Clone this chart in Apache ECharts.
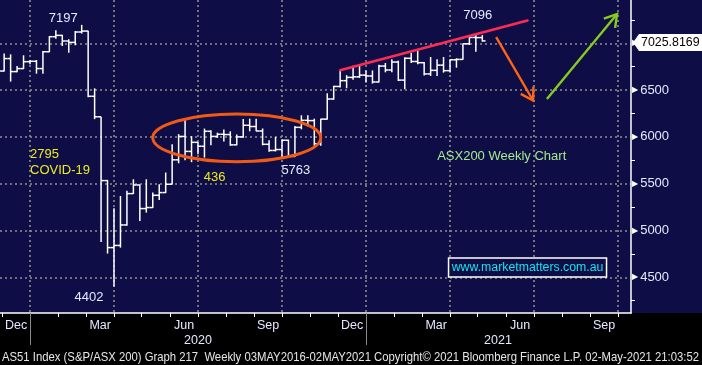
<!DOCTYPE html>
<html><head><meta charset="utf-8">
<script src="https://cdn.jsdelivr.net/npm/echarts@6/dist/echarts.min.js"></script>
<style>
html,body{margin:0;padding:0;background:#000;}
#c{width:702px;height:365px;background:linear-gradient(to bottom,#0e0d46 0px,#0e0d46 313px,#000 313px,#000 365px);}
</style></head><body><div id="c"></div>
<script>
// ---- data: ASX200 weekly bars (week ending) ----
const weeks = ['2019-11-22','2019-11-29','2019-12-06','2019-12-13','2019-12-20','2019-12-27',
'2020-01-03','2020-01-10','2020-01-17','2020-01-24','2020-01-31','2020-02-07','2020-02-14','2020-02-21','2020-02-28',
'2020-03-06','2020-03-13','2020-03-20','2020-03-27','2020-04-03','2020-04-10','2020-04-17','2020-04-24','2020-05-01',
'2020-05-08','2020-05-15','2020-05-22','2020-05-29','2020-06-05','2020-06-12','2020-06-19','2020-06-26','2020-07-03',
'2020-07-10','2020-07-17','2020-07-24','2020-07-31','2020-08-07','2020-08-14','2020-08-21','2020-08-28','2020-09-04',
'2020-09-11','2020-09-18','2020-09-25','2020-10-02','2020-10-09','2020-10-16','2020-10-23','2020-10-30','2020-11-06',
'2020-11-13','2020-11-20','2020-11-27','2020-12-04','2020-12-11','2020-12-18','2020-12-25','2021-01-01','2021-01-08',
'2021-01-15','2021-01-22','2021-01-29','2021-02-05','2021-02-12','2021-02-19','2021-02-26','2021-03-05','2021-03-12',
'2021-03-19','2021-03-26','2021-04-02','2021-04-09','2021-04-16','2021-04-23','2021-04-30'];
const openV  = [6750,6704,6837,6698,6730,6804, 6808,6730,6910,7071,7085,7025,7010,7121,7131, 6434,6215,5533,4817,4840,5059,5394,5486,5234,
 5245,5376,5405,5494,5755,6005,5845,5942,5900, 6060,6005,6028,6025,5915,6000,6124,6111,6063, 5921,5855,5865,5964,5791,6102,6177,6174,5927,
 6190,6405,6539,6601,6636,6642,6660,6651,6587, 6757,6715,6800,6607,6840,6806,6793,6673,6711, 6767,6708,6824,6828,6995,7063,7061];
const highV  = [6790,6890,6882,6758,6872,6822, 6822,6918,7078,7139,7090,7043,7131,7197,7135, 6519,6215,5540,5237,5369,5425,5547,5490,5547,
 5405,5494,5619,5921,6030,6188,6008,5946,6089, 6070,6045,6080,6060,6025,6190,6195,6195,6090, 5965,6000,5975,5970,6117,6231,6231,6195,6195,
 6466,6546,6712,6660,6760,6760,6710,6710,6770, 6790,6830,6815,6850,6900,6930,6800,6854,6829, 6854,6830,6840,6997,7067,7096,7088];
const lowV   = [6680,6700,6591,6690,6725,6776, 6676,6676,6905,7050,6971,6900,6979,7104,6425, 6190,4877,4753,4402,4817,5050,5390,5102,5191,
 5240,5326,5400,5490,5718,5750,5730,5814,5779, 5910,5990,5950,5905,5910,5990,6060,6060,5910, 5840,5845,5763,5785,5785,6081,6110,5905,5905,
 6185,6397,6527,6520,6610,6630,6580,6570,6580, 6690,6690,6597,6508,6790,6776,6655,6651,6651, 6687,6687,6740,6825,6982,6911,7018];
const closeV = [6704,6837,6698,6730,6804,6808, 6730,6910,7071,7085,7025,7010,7121,7131,6434, 6215,5533,4817,4840,5059,5394,5486,5234,5245,
 5376,5405,5494,5755,6005,5845,5942,5900,6060, 6005,6028,6025,5915,6000,6124,6111,6063,5921, 5855,5865,5964,5791,6102,6177,6174,5927,6190,
 6405,6539,6601,6636,6642,6660,6651,6587,6757, 6715,6800,6607,6840,6806,6793,6673,6711,6767, 6708,6824,6828,6995,7063,7061,7025.8169];

// ---- axis ticks & labels ----
const yMajor = [4500,5000,5500,6000,6500,7000];
const yMinor = [4250,4750,5250,5750,6250,6750,7250];
const quarterLines = ['2019-12-27','2020-03-27','2020-06-26','2020-09-25','2020-12-25','2021-03-26','2021-06-25','2021-09-24'];
const monthTicks = ['2019-11-27','2019-12-27','2020-01-27','2020-02-26','2020-03-27','2020-04-26','2020-05-27','2020-06-26',
 '2020-07-27','2020-08-26','2020-09-25','2020-10-26','2020-11-25','2020-12-25','2021-01-25','2021-02-24','2021-03-26',
 '2021-04-25','2021-05-26','2021-06-25','2021-07-26','2021-08-25','2021-09-24'];
const monthLabelDates = ['2019-12-12','2020-03-12','2020-06-11','2020-09-10','2020-12-10','2021-03-11','2021-06-10','2021-09-09'];
const monthLabels = ['Dec','Mar','Jun','Sep','Dec','Mar','Jun','Sep'];
const yearBounds = ['2019-12-27','2020-12-25'];
const yearLabelDates = ['2020-06-26','2021-05-17'];
const yearLabels = ['2020','2021'];

// ---- annotations (anchored in data coordinates) ----
const annoText = [
  {t:'7197', d:'2020-02-01', v:7265, c:'#e4e9ff', a:'center'},
  {t:'4402', d:'2020-02-29', v:4289, c:'#e4e9ff', a:'center'},
  {t:'2795', d:'2019-12-27', v:5817, c:'#ecec1c', a:'left'},
  {t:'COVID-19', d:'2019-12-27', v:5646, c:'#ecec1c', a:'left'},
  {t:'436', d:'2020-07-14', v:5572, c:'#ecec1c', a:'center'},
  {t:'5763', d:'2020-10-10', v:5641, c:'#e4e9ff', a:'center'},
  {t:'7096', d:'2021-04-25', v:7297, c:'#e4e9ff', a:'center'},
  {t:'ASX200 Weekly Chart', d:'2021-05-21', v:5791, c:'#a2ea8e', a:'center'}
];
const siteLabel = {t:'www.marketmatters.com.au', d:'2021-06-18', v:4605};
const trendLine = [['2020-11-27', 6712], ['2021-06-18', 7244]];
const downArrow = [['2021-05-15', 7067], ['2021-06-24', 6389]];
const upArrow = [['2021-07-09', 6405], ['2021-09-23', 7313]];
const rangeBox = {d0:'2020-05-08', d1:'2020-11-06', v0:5735, v1:6245};
const footer = 'AS51 Index (S&P/ASX 200) Graph 217  Weekly 03MAY2016-02MAY2021 Copyright\u00A9 2021 Bloomberg Finance L.P. 02-May-2021 21:03:52';

function ts(s){ const p = s.split(/[- :]/).map(Number); return new Date(p[0], p[1]-1, p[2], p[3]||0, p[4]||0).getTime(); }
const X_MIN = ts('2019-11-24 12:00'), X_MAX = ts('2021-10-08 02:00');
const Y_MIN = 4118, Y_MAX = 7463;
const FONT = '"Liberation Sans", Arial, sans-serif';
const labelTs = monthLabelDates.map(ts), yearTs = yearLabelDates.map(ts);

const bars = weeks.map((w,i)=>[ts(w), openV[i], highV[i], lowV[i], closeV[i]]);
const dotted = {color:'#8e8e8e', width:1.6, type:[2,3]};

const chart = echarts.init(document.getElementById('c'), null, {renderer:'canvas'});
const option = {
  animation:false,
  grid:{left:0, right:71, top:0, bottom:52, containLabel:false},
  xAxis:[
    {type:'value', min:X_MIN, max:X_MAX, position:'bottom', scale:true,
     axisLine:{show:true, onZero:false, lineStyle:{color:'#ffffff', width:1.5}},
     axisTick:{show:true, customValues: monthTicks.map(ts), length:4, lineStyle:{color:'#ffffff', width:1}},
     axisLabel:{show:true, customValues: labelTs, margin:6, color:'#e4e9ff', fontSize:12.5, fontFamily:FONT, hideOverlap:false,
       formatter:function(v){ const i = labelTs.findIndex(t=>Math.abs(t-v)<86400000); return i>=0?monthLabels[i]:''; }},
     splitLine:{show:false}},
    {type:'value', min:X_MIN, max:X_MAX, position:'bottom', scale:true,
     axisLine:{show:false, onZero:false}, axisLabel:{show:false},
     axisTick:{show:false, customValues: quarterLines.map(ts)},
     splitLine:{show:true, lineStyle:dotted}},
    {type:'value', min:X_MIN, max:X_MAX, position:'bottom', scale:true,
     axisLine:{show:false, onZero:false},
     axisTick:{show:true, customValues: yearBounds.map(ts), length:32, lineStyle:{color:'#8a8a8a', width:1}},
     axisLabel:{show:true, customValues: yearTs, margin:21, color:'#e4e9ff', fontSize:12.5, fontFamily:FONT, hideOverlap:false,
       formatter:function(v){ const i = yearTs.findIndex(t=>Math.abs(t-v)<86400000); return i>=0?yearLabels[i]:''; }},
     splitLine:{show:false}}
  ],
  yAxis:[
    {type:'value', min:Y_MIN, max:Y_MAX, position:'right', scale:true,
     axisLine:{show:true, onZero:false, lineStyle:{color:'#ffffff', width:1.5}},
     axisTick:{show:false, customValues: yMajor},
     axisLabel:{show:true, customValues: yMajor, margin:1,
       formatter:function(v){ return '{t|\u25B6}{n|' + v + '}'; },
       rich:{t:{fontSize:8, color:'#ffffff', fontFamily:'DejaVu Sans', padding:[0,2,0,0]},
             n:{fontSize:13, color:'#e4e9ff', fontFamily:FONT}}},
     splitLine:{show:true, lineStyle:dotted}},
    {type:'value', min:Y_MIN, max:Y_MAX, position:'right', scale:true,
     axisLine:{show:false, onZero:false}, axisLabel:{show:false}, splitLine:{show:false},
     axisTick:{show:true, customValues: yMinor, length:4, inside:false, lineStyle:{color:'#ffffff', width:1}}}
  ],
  series:[{
    type:'custom', name:'AS51', xAxisIndex:0, yAxisIndex:0, clip:true,
    encode:{x:0, y:[1,2,3,4]},
    data: bars,
    renderItem:function(params, api){
      const x = api.value(0);
      const o = api.coord([x, api.value(1)]);
      const h = api.coord([x, api.value(2)]);
      const l = api.coord([x, api.value(3)]);
      const c = api.coord([x, api.value(4)]);
      const w = api.size([3.5*86400000, 0])[0];
      const st = {stroke:'#ffffff', lineWidth:1.5};
      return {type:'group', children:[
        {type:'line', shape:{x1:h[0], y1:h[1], x2:l[0], y2:l[1]}, style:st},
        {type:'line', shape:{x1:o[0]-w, y1:o[1], x2:o[0], y2:o[1]}, style:st},
        {type:'line', shape:{x1:c[0], y1:c[1], x2:c[0]+w, y2:c[1]}, style:st}
      ]};
    }
  }]
};
chart.setOption(option);

// ---- annotation graphics, positioned through the chart's scales ----
const P = (d, v) => chart.convertToPixel({xAxisIndex:0, yAxisIndex:0}, [ts(d), v]);
const g = [];
annoText.forEach(a=>{
  const p = P(a.d, a.v);
  g.push({type:'text', x:p[0], y:p[1], z:100, style:{text:a.t, fill:a.c, font:'13px '+FONT, align:a.a, verticalAlign:'middle'}});
});
(function(){
  const p0 = P(rangeBox.d0, rangeBox.v1), p1 = P(rangeBox.d1, rangeBox.v0);
  g.push({type:'ellipse', z:90, shape:{cx:(p0[0]+p1[0])/2, cy:(p0[1]+p1[1])/2, rx:(p1[0]-p0[0])/2, ry:(p1[1]-p0[1])/2},
    style:{fill:null, stroke:'#f05a14', lineWidth:3}});
})();
(function(){
  const a = P(trendLine[0][0], trendLine[0][1]), b = P(trendLine[1][0], trendLine[1][1]);
  g.push({type:'line', z:95, shape:{x1:a[0], y1:a[1], x2:b[0], y2:b[1]}, style:{stroke:'#ff2b52', lineWidth:2.6, lineCap:'round'}});
})();
function arrow(seg, color){
  const a = P(seg[0][0], seg[0][1]), b = P(seg[1][0], seg[1][1]);
  const ang = Math.atan2(a[1]-b[1], a[0]-b[0]), L = 14, da = 0.55;
  g.push({type:'line', z:95, shape:{x1:a[0], y1:a[1], x2:b[0], y2:b[1]}, style:{stroke:color, lineWidth:2.4}});
  g.push({type:'polyline', z:95, shape:{points:[[b[0]+L*Math.cos(ang+da), b[1]+L*Math.sin(ang+da)], b, [b[0]+L*Math.cos(ang-da), b[1]+L*Math.sin(ang-da)]]},
    style:{stroke:color, lineWidth:2.4, fill:null}});
}
arrow(downArrow, '#ff6614');
arrow(upArrow, '#86cc1e');
(function(){
  const p = P(siteLabel.d, siteLabel.v);
  g.push({type:'rect', z:96, shape:{x:p[0]-79, y:p[1]-9.5, width:158, height:19}, style:{fill:'#0e0d46', stroke:'#ffffff', lineWidth:1.5}});
  g.push({type:'text', z:97, x:p[0], y:p[1], style:{text:siteLabel.t, fill:'#10e4f0', font:'12.3px '+FONT, align:'center', verticalAlign:'middle'}});
})();
(function(){
  const last = closeV[closeV.length-1];
  const p = chart.convertToPixel({xAxisIndex:0, yAxisIndex:0}, [X_MAX, last]);
  const x0 = p[0] + 2, y0 = p[1] + 1.5;
  g.push({type:'polygon', z:98, shape:{points:[[x0,y0],[x0+6,y0-8.5],[702,y0-8.5],[702,y0+8.5],[x0+6,y0+8.5]]}, style:{fill:'#ffffff'}});
  g.push({type:'text', z:99, x:x0+8, y:y0, style:{text:String(last), fill:'#000000', font:'12.4px '+FONT, align:'left', verticalAlign:'middle'}});
})();
(function(){
  const footFont = '13px ' + FONT;
  const ctx = document.createElement('canvas').getContext('2d');
  ctx.font = footFont;
  const sx = 697 / ctx.measureText(footer).width;
  g.push({type:'text', z:100, x:2, y:357, scaleX:sx, style:{text:footer, fill:'#e6e6e6', font:footFont, align:'left', verticalAlign:'middle'}});
})();
chart.setOption({graphic:{elements:g}});
</script></body></html>
